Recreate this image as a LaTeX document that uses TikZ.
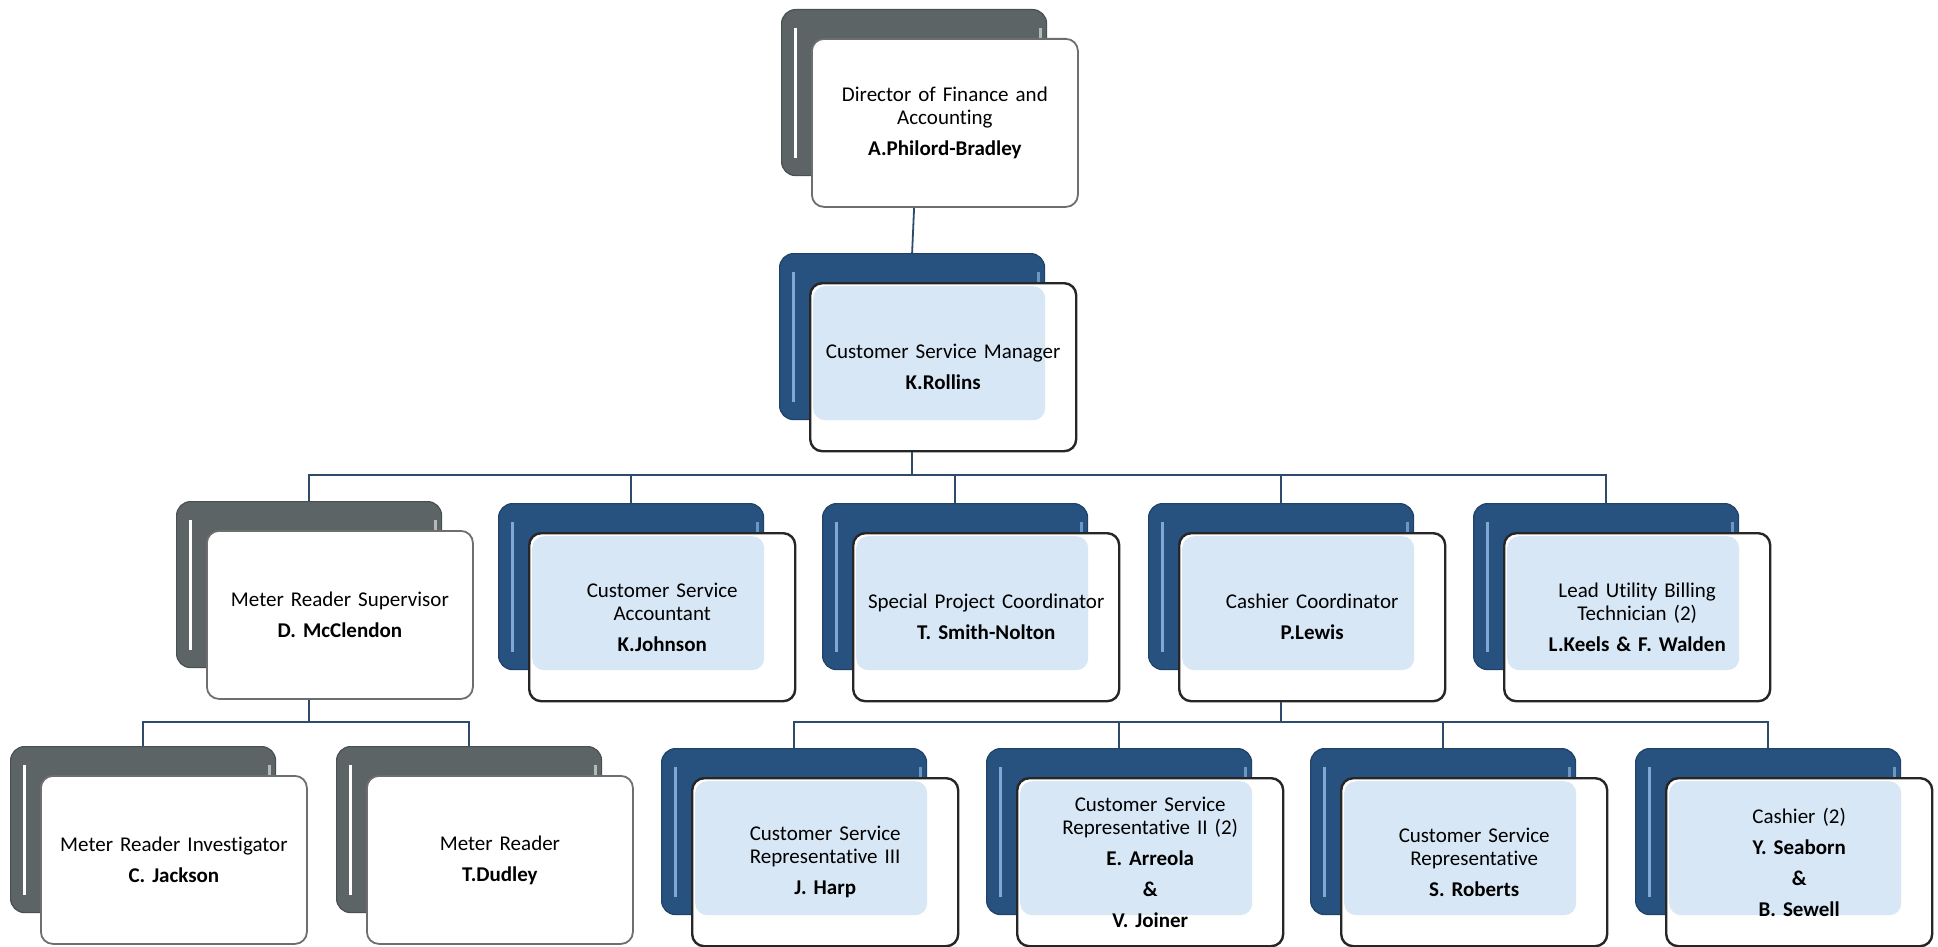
\documentclass[tikz,border=0pt]{standalone}
\usepackage{fontspec}
\setmainfont{Carlito}[Ligatures=NoCommon, WordSpace=0.8]
\usetikzlibrary{calc}
\frenchspacing

\definecolor{backgrey}{HTML}{5C6465}
\definecolor{backblue}{HTML}{27527F}
\definecolor{stripeblue}{HTML}{7FA8D4}
\definecolor{cardblue}{HTML}{D8E7F6}
\definecolor{linkcol}{HTML}{2F4B6B}
\definecolor{framegrey}{HTML}{6E6E6E}

\tikzset{
  backcard/.style={rectangle, rounded corners=7pt, minimum width=132.5pt,
    minimum height=83pt, inner sep=0pt, anchor=north west},
  greyback/.style={backcard, fill=backgrey, draw=backgrey!80!black, line width=0.6pt,
    path picture={
      \draw[white, line width=1.4pt]
        ([xshift=7pt,yshift=-9pt]path picture bounding box.north west) --
        ([xshift=7pt,yshift=9pt]path picture bounding box.south west);
      \draw[white!55!backgrey, line width=1.4pt]
        ([xshift=-3pt,yshift=-9pt]path picture bounding box.north east) --
        ([xshift=-3pt,yshift=9pt]path picture bounding box.south east);}},
  blueback/.style={backcard, fill=backblue, draw=backblue!80!black, line width=0.6pt,
    path picture={
      \draw[stripeblue, line width=1.4pt]
        ([xshift=7pt,yshift=-9pt]path picture bounding box.north west) --
        ([xshift=7pt,yshift=9pt]path picture bounding box.south west);
      \draw[stripeblue!80!backblue, line width=1.4pt]
        ([xshift=-3pt,yshift=-9pt]path picture bounding box.north east) --
        ([xshift=-3pt,yshift=9pt]path picture bounding box.south east);}},
  frontcard/.style={rectangle, rounded corners=6pt, minimum width=133pt,
    minimum height=84pt, inner sep=1pt, anchor=north west, align=center,
    text width=131pt, font=\fontsize{10.5}{11.5}\selectfont},
  greyfront/.style={frontcard, fill=white, draw=framegrey, line width=0.9pt},
  bluefront/.style={frontcard, fill=white, draw=black!85, line width=1.2pt,
    path picture={
      \fill[cardblue] ([xshift=1.5pt,yshift=-1.5pt]path picture bounding box.north west)
        rectangle ++(116pt,-67pt);}},
  link/.style={draw=linkcol, line width=0.9pt},
}

\begin{document}
\begin{tikzpicture}[x=0.5pt, y=-0.5pt]
  \fill[white] (0,0) rectangle (1938,947);
  \useasboundingbox (0,0) rectangle (1938,947);

  % bus levels
  \coordinate (busA) at (0,475);
  \coordinate (busB) at (0,722);

  % cards: back plate, then front card offset by (30,29)
  \node[greyback] (dir-b) at (781,9) {};
  \node[greyfront] (dir) at ($(dir-b.north west)+(30,29)$)
    {Director of Finance and\\Accounting\\[4pt]\textbf{A.Philord-Bradley}};

  \node[blueback] (mgr-b) at (779,253) {};
  \node[bluefront] (mgr) at ($(mgr-b.north west)+(30,29)$)
    {Customer Service Manager\\[4pt]\textbf{K.Rollins}};

  \node[greyback] (mrs-b) at (176,501) {};
  \node[greyfront] (mrs) at ($(mrs-b.north west)+(30,29)$)
    {Meter Reader Supervisor\\[4pt]\textbf{D. McClendon}};

  \node[blueback] (acct-b) at (498,503) {};
  \node[bluefront] (acct) at ($(acct-b.north west)+(30,29)$)
    {Customer Service\\Accountant\\[4pt]\textbf{K.Johnson}};

  \node[blueback] (spc-b) at (822,503) {};
  \node[bluefront] (spc) at ($(spc-b.north west)+(30,29)$)
    {Special Project Coordinator\\[4pt]\textbf{T. Smith-Nolton}};

  \node[blueback] (cc-b) at (1148,503) {};
  \node[bluefront] (cc) at ($(cc-b.north west)+(30,29)$)
    {Cashier Coordinator\\[4pt]\textbf{P.Lewis}};

  \node[blueback] (lubt-b) at (1473,503) {};
  \node[bluefront] (lubt) at ($(lubt-b.north west)+(30,29)$)
    {Lead Utility Billing\\Technician (2)\\[4pt]\textbf{L.Keels \& F. Walden}};

  \node[greyback] (mri-b) at (10,746) {};
  \node[greyfront] (mri) at ($(mri-b.north west)+(30,29)$)
    {Meter Reader Investigator\\[4pt]\textbf{C. Jackson}};

  \node[greyback] (mr-b) at (336,746) {};
  \node[greyfront] (mr) at ($(mr-b.north west)+(30,29)$)
    {Meter Reader\\[4pt]\textbf{T.Dudley}};

  \node[blueback] (csr3-b) at (661,748) {};
  \node[bluefront] (csr3) at ($(csr3-b.north west)+(30,29)$)
    {Customer Service\\Representative III\\[4pt]\textbf{J. Harp}};

  \node[blueback] (csr2-b) at (986,748) {};
  \node[bluefront] (csr2) at ($(csr2-b.north west)+(30,29)$)
    {Customer Service\\Representative II (2)\\[4pt]\textbf{E. Arreola}\\[4pt]\textbf{\&}\\[4pt]\textbf{V. Joiner}};

  \node[blueback] (csr-b) at (1310,748) {};
  \node[bluefront] (csr) at ($(csr-b.north west)+(30,29)$)
    {Customer Service\\Representative\\[4pt]\textbf{S. Roberts}};

  \node[blueback] (cash-b) at (1635,748) {};
  \node[bluefront] (cash) at ($(cash-b.north west)+(30,29)$)
    {Cashier (2)\\[4pt]\textbf{Y. Seaborn}\\[4pt]\textbf{\&}\\[4pt]\textbf{B. Sewell}};

  % reporting lines
  \draw[link] (dir-b.center |- dir.south) -- (mgr-b.north);
  \foreach \c in {mrs,acct,spc,cc,lubt}
    \draw[link] (mgr-b.center |- mgr.south) -- (mgr-b.center |- busA) -| (\c-b.north);
  \foreach \c in {mri,mr}
    \draw[link] (mrs-b.center |- mrs.south) -- (mrs-b.center |- busB) -| (\c-b.north);
  \foreach \c in {csr3,csr2,csr,cash}
    \draw[link] (cc-b.center |- cc.south) -- (cc-b.center |- busB) -| (\c-b.north);
\end{tikzpicture}
\end{document}
